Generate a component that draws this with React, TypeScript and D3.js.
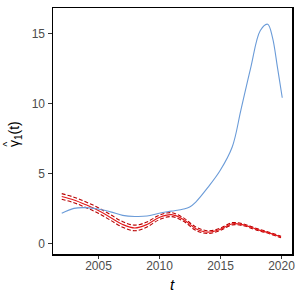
import * as React from "react"
import { scaleLinear, line, curveCatmullRom } from "d3"

// blue estimate
const blueT = [2002, 2003, 2004, 2005, 2006, 2007, 2008, 2009, 2010, 2011, 2012, 2012.5, 2013, 2014, 2015, 2016, 2016.7, 2017.5, 2018.3, 2018.9, 2019.3, 2019.7, 2020.1]
const blueV = [2.15, 2.5, 2.55, 2.45, 2.25, 2.0, 1.92, 1.95, 2.15, 2.3, 2.45, 2.6, 2.95, 4.0, 5.2, 6.9, 9.5, 12.5, 15.2, 15.65, 14.7, 12.6, 10.4]

// red estimate with band
const redT = [2002, 2003, 2004, 2005, 2006, 2007, 2008, 2009, 2010, 2011, 2012, 2013, 2014, 2015, 2016, 2017, 2018, 2019, 2020]
const redV = [3.35, 3.1, 2.75, 2.35, 1.85, 1.35, 1.1, 1.35, 1.85, 2.05, 1.7, 1.05, 0.8, 1.0, 1.4, 1.3, 1.0, 0.75, 0.45]
const redHalf = [0.2, 0.2, 0.2, 0.2, 0.2, 0.2, 0.2, 0.18, 0.16, 0.14, 0.12, 0.12, 0.1, 0.08, 0.08, 0.06, 0.06, 0.05, 0.05]

const xTicks = [2005, 2010, 2015, 2020]
const yTicks = [0, 5, 10, 15]

export default function App() {
  const left = 52
  const right = 292
  const top = 7
  const bottom = 254

  const x = scaleLinear().domain([2001.2, 2020.9]).range([left, right])
  const y = scaleLinear().domain([-0.76, 16.88]).range([bottom, top])

  const mk = line<[number, number]>()
    .x((d) => x(d[0]))
    .y((d) => y(d[1]))
    .curve(curveCatmullRom)

  const blue = mk(blueT.map((t, i) => [t, blueV[i]]))
  const red = mk(redT.map((t, i) => [t, redV[i]]))
  const redUp = mk(redT.map((t, i) => [t, redV[i] + redHalf[i]]))
  const redLo = mk(redT.map((t, i) => [t, redV[i] - redHalf[i]]))

  const tickCol = "#4d4d4d"

  return (
    <svg width={300} height={300} style={{ position: "absolute", left: 0, top: 0 }}>
      <rect width={300} height={300} fill="#fff" />
      {/* curves */}
      <path d={redUp || ""} fill="none" stroke="#b80000" strokeWidth={1.1} strokeDasharray="4 2" />
      <path d={redLo || ""} fill="none" stroke="#b80000" strokeWidth={1.1} strokeDasharray="4 2" />
      <path d={red || ""} fill="none" stroke="#e31a1c" strokeWidth={1.1} />
      <path d={blue || ""} fill="none" stroke="#6a9bd8" strokeWidth={1.1} />

      {/* panel border */}
      <line x1={left + 0.5} x2={left + 0.5} y1={top} y2={bottom + 1} stroke="#000" strokeWidth={1} />
      <line x1={left} x2={right + 1} y1={top + 0.5} y2={top + 0.5} stroke="#000" strokeWidth={1} />
      <line x1={right + 1} x2={right + 1} y1={top} y2={bottom + 2} stroke="#000" strokeWidth={2} />
      <line x1={left} x2={right + 2} y1={bottom + 1} y2={bottom + 1} stroke="#000" strokeWidth={2} />

      {/* y axis */}
      {yTicks.map((v) => (
        <g key={v} transform={`translate(0, ${Math.round(y(v)) + 0.5})`}>
          <line x1={48} x2={left} stroke="#333" />
          <text x={45} dy="0.35em" textAnchor="end" fontFamily="Arial, Liberation Sans, sans-serif" fontSize={12} fill={tickCol}>
            {v}
          </text>
        </g>
      ))}

      {/* x axis */}
      {xTicks.map((v) => (
        <g key={v} transform={`translate(${Math.round(x(v)) + 0.5}, 0)`}>
          <line y1={bottom + 2} y2={bottom + 5} stroke="#333" />
          <text y={270} textAnchor="middle" fontFamily="Arial, Liberation Sans, sans-serif" fontSize={12} fill={tickCol}>
            {v}
          </text>
        </g>
      ))}

      <text x={172} y={290} textAnchor="middle" fontFamily="Arial, Liberation Sans, sans-serif" fontSize={15} fontStyle="italic" fill="#000">
        t
      </text>

      <g transform="translate(19, 147) rotate(-90)" fontFamily="Arial, Liberation Sans, sans-serif" fill="#000">
        <text x={0} y={0} fontSize={14}>
          <tspan>γ</tspan>
          <tspan fontSize={10} dy={3}>1</tspan>
          <tspan dy={-3}>(t)</tspan>
        </text>
        <text x={0.5} y={-8} fontSize={10}>^</text>
      </g>
    </svg>
  )
}
